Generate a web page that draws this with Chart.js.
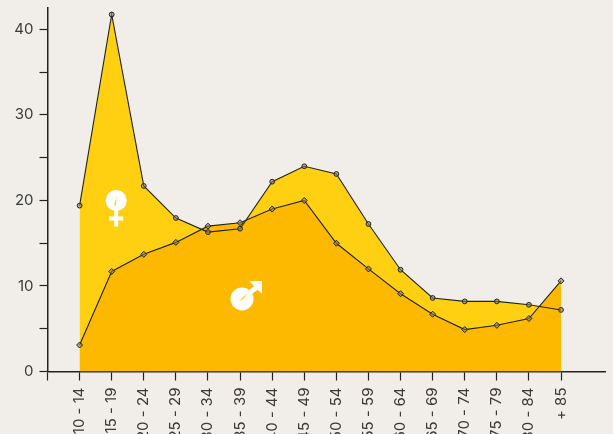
<!DOCTYPE html>
<html lang="en">
<head>
    <meta charset="UTF-8">
    <title>Age groups by sex</title>
    <script src="https://cdn.jsdelivr.net/npm/chart.js"></script>
    <style>
        * { margin: 0; padding: 0; box-sizing: border-box; }
        html, body { width: 613px; height: 434px; overflow: hidden; background: #f1eeea; }
        #wrap { position: relative; width: 613px; height: 434px; }
    </style>
</head>
<body>
    <div id="wrap"><canvas id="myChart"></canvas></div>

    <script>
        const ageGroups = ['10 - 14', '15 - 19', '20 - 24', '25 - 29', '30 - 34', '35 - 39', '40 - 44', '45 - 49',
            '50 - 54', '55 - 59', '60 - 64', '65 - 69', '70 - 74', '75 - 79', '80 - 84', '+ 85'];
        const female = [19.4, 41.75, 21.7, 17.95, 16.3, 16.7, 22.2, 24.0, 23.1, 17.25, 11.9, 8.6, 8.2, 8.2, 7.8, 7.2];
        const male = [3.1, 11.7, 13.7, 15.1, 17.0, 17.4, 19.0, 20.0, 15.0, 12.0, 9.1, 6.7, 4.9, 5.4, 6.2, 10.6];

        const toPoints = values => values.map((v, i) => ({ x: i, y: v }));

        // white sex symbols sitting inside the filled areas
        const symbols = {
            id: 'symbols',
            afterDatasetsDraw(chart) {
                const { ctx, scales } = chart;
                const fx = scales.x.getPixelForValue(1.14), fy = scales.y.getPixelForValue(20.0);
                const mx = scales.x.getPixelForValue(5.06), my = scales.y.getPixelForValue(8.48);
                ctx.save();
                ctx.fillStyle = '#fff';

                // female
                ctx.beginPath();
                ctx.arc(fx, fy, 10.5, 0, Math.PI * 2);
                ctx.fill();
                ctx.fillRect(fx - 2, fy + 6, 4, 20);
                ctx.fillRect(fx - 7, fy + 16, 14, 4);
                ctx.fillStyle = '#ffd012';
                ctx.beginPath();
                ctx.moveTo(fx - 0.5, fy + 6);
                ctx.lineTo(fx + 0.5, fy - 4);
                ctx.lineTo(fx - 2, fy + 4);
                ctx.fill();

                // male
                ctx.fillStyle = '#fff';
                ctx.beginPath();
                ctx.arc(mx, my, 11.5, 0, Math.PI * 2);
                ctx.fill();
                ctx.strokeStyle = '#fff';
                ctx.lineWidth = 5;
                ctx.beginPath();
                ctx.moveTo(mx + 2, my - 2);
                ctx.lineTo(mx + 15, my - 12);
                ctx.stroke();
                ctx.beginPath();
                ctx.moveTo(mx + 7, my - 18);
                ctx.lineTo(mx + 20, my - 18);
                ctx.lineTo(mx + 20, my - 5);
                ctx.fill();
                ctx.fillStyle = '#fdb900';
                ctx.beginPath();
                ctx.moveTo(mx - 3, my + 3);
                ctx.lineTo(mx + 6, my - 7);
                ctx.lineTo(mx + 2, my - 1);
                ctx.fill();
                ctx.restore();
            }
        };

        new Chart(document.getElementById('myChart').getContext('2d'), {
            type: 'line',
            data: {
                datasets: [
                    {
                        label: 'Men',
                        data: toPoints(male),
                        borderColor: '#222',
                        borderWidth: 1.1,
                        backgroundColor: '#fdb900',
                        fill: 'origin',
                        tension: 0,
                        pointStyle: 'rectRot',
                        pointRadius: 3,
                        pointBorderWidth: 1,
                        pointBorderColor: '#222',
                        pointBackgroundColor: 'rgba(140, 130, 90, 0.6)'
                    },
                    {
                        label: 'Women',
                        data: toPoints(female),
                        borderColor: '#222',
                        borderWidth: 1.1,
                        backgroundColor: '#ffd012',
                        fill: 'origin',
                        tension: 0,
                        pointStyle: 'circle',
                        pointRadius: 2.4,
                        pointBorderWidth: 1,
                        pointBorderColor: '#222',
                        pointBackgroundColor: 'rgba(140, 130, 90, 0.6)'
                    }
                ]
            },
            options: {
                responsive: true,
                maintainAspectRatio: false,
                animation: false,
                layout: { padding: { top: 7.5, right: 8, left: 0, bottom: 0 } },
                scales: {
                    x: {
                        type: 'linear',
                        min: -1,
                        max: 16.37,
                        afterBuildTicks: axis => { axis.ticks = axis.ticks.filter(t => Number.isInteger(t.value) && t.value <= 15); },
                        afterFit: axis => { axis.height = 62.5; },
                        border: { color: '#222', width: 1.5 },
                        grid: { drawOnChartArea: false, tickLength: 9, tickColor: '#222', tickWidth: 1.2 },
                        ticks: {
                            stepSize: 1,
                            autoSkip: false,
                            minRotation: 90,
                            maxRotation: 90,
                            padding: 7,
                            color: '#3a3a3a',
                            font: { family: 'Inter', size: 15 },
                            callback: v => ageGroups[v] || ''
                        }
                    },
                    y: {
                        min: 0,
                        max: 42.57,
                        afterBuildTicks: axis => { axis.ticks = axis.ticks.filter(t => t.value % 5 === 0); },
                        afterFit: axis => { axis.width = 47.5; axis.paddingTop = 0; },
                        border: { color: '#222', width: 1.5 },
                        grid: { drawOnChartArea: false, tickLength: 8, tickColor: '#222', tickWidth: 1.2 },
                        ticks: {
                            stepSize: 5,
                            padding: 6,
                            color: '#3a3a3a',
                            font: { family: 'Inter', size: 15 },
                            callback: v => (v % 10 === 0 ? v : '')
                        }
                    }
                },
                plugins: {
                    legend: { display: false },
                    tooltip: { enabled: false },
                    filler: { drawTime: 'beforeDatasetsDraw' }
                }
            },
            plugins: [symbols]
        });
    </script>
</body>
</html>
